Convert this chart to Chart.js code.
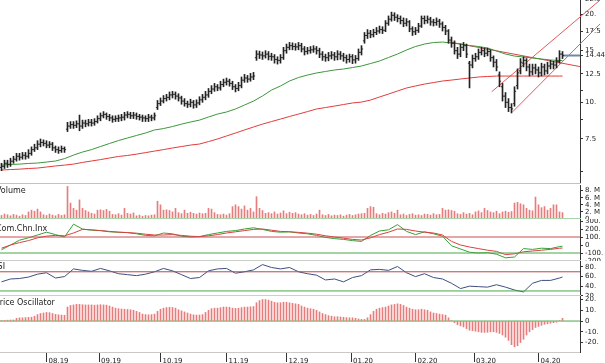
<!DOCTYPE html>
<html>
<head>
<meta charset="utf-8">
<script src="https://cdn.jsdelivr.net/npm/chart.js@4.4.1/dist/chart.umd.min.js"></script>
<style>
html, body { margin: 0; padding: 0; background: #fff; }
body { width: 605px; height: 363px; overflow: hidden; position: relative; font-family: "DejaVu Sans", Verdana, sans-serif; }
.pane { position: absolute; left: 0; }
.pane canvas { display: block; }
.ttl { position: absolute; font-size: 8px; color: #222; white-space: nowrap; }
.sep { position: absolute; left: 0; width: 581px; height: 1px; }
</style>
</head>
<body>
<div class="pane" style="top:-1px"><canvas id="price" width="605" height="184"></canvas></div>
<div class="pane" style="top:185px"><canvas id="vol" width="605" height="34"></canvas></div>
<div class="pane" style="top:219px"><canvas id="cci" width="605" height="42"></canvas></div>
<div class="pane" style="top:261px"><canvas id="rsi" width="605" height="35"></canvas></div>
<div class="pane" style="top:296px"><canvas id="osc" width="605" height="67"></canvas></div>
<div class="sep" style="top:183px;background:#a9d3a9"></div>
<div class="sep" style="top:218px;background:#a9d3a9"></div>
<div class="sep" style="top:260px;background:#c8d0c8"></div>
<div class="sep" style="top:295px;background:#c8d0c8"></div>
<div class="ttl" style="left:-4px;top:186px">Volume</div>
<div class="ttl" style="left:-4px;top:224px">Com.Chn.Inx</div>
<div class="ttl" style="left:-8px;top:262px">RSI</div>
<div class="ttl" style="left:-5px;top:298px">Price Oscillator</div>
<script>
// daily bars, mid-July 2019 to late April 2020
const opens = [6.0,6.05,6.2,6.15,6.3,6.4,6.55,6.5,6.6,6.55,
  6.7,6.9,7.0,7.2,7.3,7.25,7.15,7.2,7.0,6.9,
  6.85,6.95,8.1,8.3,8.4,8.35,8.45,8.3,8.5,8.45,
  8.55,8.5,8.6,8.8,9.0,9.1,8.95,8.85,8.75,8.8,
  8.85,8.9,9.05,9.1,9.0,9.05,8.95,8.9,8.85,8.8,
  8.9,8.85,9.6,9.9,10.1,10.3,10.4,10.6,10.65,10.5,
  10.35,10.1,9.9,9.85,10.0,9.8,9.95,10.2,10.4,10.6,
  10.9,11.1,11.3,11.2,11.5,11.7,11.8,11.6,11.3,11.15,
  11.4,11.9,12.1,12.0,12.2,14.2,14.6,14.5,14.4,14.6,
  14.35,14.3,14.0,13.9,14.2,15.0,15.4,15.6,15.5,15.45,
  15.6,15.2,14.9,15.0,15.1,15.2,15.0,14.6,14.3,14.2,
  14.4,14.5,14.3,14.6,14.4,14.2,14.0,14.3,13.95,14.1,
  14.8,16.2,16.9,17.2,17.0,17.3,17.5,17.7,17.6,18.6,
  19.2,19.8,19.5,19.3,19.0,18.6,18.8,17.8,17.4,17.6,
  18.2,19.3,19.0,19.2,18.8,18.7,18.9,18.5,18.0,17.5,
  16.3,15.9,15.0,14.6,15.4,15.6,13.6,13.4,14.1,14.3,
  14.8,15.0,14.7,14.9,14.2,13.7,12.4,11.3,10.5,10.0,
  9.6,9.9,11.4,12.8,13.6,13.9,13.2,12.7,13.1,12.9,
  12.6,13.2,12.8,13.3,13.5,13.4,13.8,14.6];
const highs = [6.2,6.35,6.35,6.45,6.55,6.7,6.7,6.75,6.75,6.9,
  7.05,7.2,7.4,7.5,7.45,7.4,7.35,7.3,7.1,7.05,
  7.1,7.05,8.55,8.6,8.6,8.65,9.05,8.7,8.7,8.75,
  8.75,8.8,9.0,9.2,9.3,9.2,9.1,9.0,9.0,9.05,
  9.1,9.25,9.3,9.25,9.25,9.2,9.1,9.05,9.0,9.1,
  9.05,9.2,10.15,10.35,10.55,10.65,10.85,10.9,10.85,10.7,
  10.5,10.3,10.1,10.25,10.15,10.2,10.45,10.65,10.9,11.15,
  11.4,11.6,11.5,11.8,12.0,12.1,12.0,11.8,11.5,11.7,
  12.2,12.45,12.35,12.55,12.65,15.0,14.95,14.85,15.0,14.9,
  14.7,14.55,14.3,14.55,15.4,15.8,16.0,15.95,15.85,16.0,
  15.9,15.5,15.4,15.5,15.6,15.5,15.3,14.9,14.6,14.8,
  14.9,14.8,15.0,14.9,14.7,14.5,14.6,14.55,14.45,15.2,
  15.6,17.3,17.7,17.6,17.75,18.0,18.2,18.1,19.0,19.7,
  20.3,20.2,19.9,19.7,19.4,19.3,19.0,18.1,18.0,18.6,
  19.7,19.7,19.7,19.5,19.2,19.4,19.2,18.8,18.3,17.7,
  16.7,16.2,15.4,15.8,16.0,15.8,13.8,14.5,14.7,15.2,
  15.4,15.3,15.3,15.1,14.4,14.0,12.7,11.6,10.8,10.3,
  9.9,11.3,13.0,14.1,14.3,14.1,13.5,13.5,13.5,13.2,
  13.6,13.5,13.7,13.9,13.8,14.2,15.0,14.9];
const lows = [5.85,5.95,6.0,6.05,6.2,6.3,6.35,6.4,6.4,6.45,
  6.6,6.8,6.9,7.05,7.1,7.0,7.0,6.85,6.75,6.7,
  6.75,6.75,7.95,8.15,8.15,8.2,8.0,8.15,8.25,8.3,
  8.3,8.35,8.5,8.65,8.85,8.75,8.65,8.55,8.6,8.6,
  8.65,8.7,8.85,8.8,8.8,8.75,8.7,8.6,8.6,8.6,
  8.65,8.7,9.45,9.75,9.95,10.1,10.2,10.35,10.25,10.1,
  9.85,9.7,9.6,9.65,9.55,9.6,9.8,10.0,10.2,10.4,
  10.7,10.9,10.95,11.0,11.3,11.45,11.35,11.05,10.85,10.95,
  11.2,11.7,11.7,11.8,11.95,13.9,14.1,14.0,14.15,13.95,
  13.9,13.6,13.5,13.6,14.0,14.7,15.1,15.1,15.05,15.1,
  14.85,14.5,14.6,14.7,14.8,14.6,14.2,13.9,13.8,13.85,
  14.05,13.9,13.95,14.0,13.8,13.6,13.7,13.55,13.6,13.9,
  14.5,15.9,16.5,16.6,16.7,17.0,17.2,17.15,17.4,18.3,
  18.9,19.0,18.8,18.5,18.1,18.2,17.4,16.9,17.0,17.3,
  18.0,18.5,18.6,18.3,18.2,18.3,18.0,17.5,17.0,15.9,
  15.4,14.6,14.1,14.3,15.0,14.2,11.2,13.1,13.8,14.0,
  14.5,14.3,14.4,13.8,13.2,12.8,11.3,10.1,9.6,9.3,
  9.2,9.7,11.1,12.5,13.2,12.8,12.3,12.4,12.5,12.2,
  12.3,12.4,12.5,13.0,13.0,13.1,13.6,14.1];
const closes = [6.05,6.2,6.15,6.3,6.4,6.55,6.5,6.6,6.55,6.7,
  6.9,7.0,7.2,7.3,7.25,7.15,7.2,7.0,6.9,6.85,
  6.95,6.9,8.3,8.4,8.35,8.45,8.3,8.5,8.45,8.55,
  8.5,8.6,8.8,9.0,9.1,8.95,8.85,8.75,8.8,8.85,
  8.9,9.05,9.1,9.0,9.05,8.95,8.9,8.85,8.8,8.9,
  8.85,9.0,9.9,10.1,10.3,10.4,10.6,10.65,10.5,10.35,
  10.1,9.9,9.85,10.0,9.8,9.95,10.2,10.4,10.6,10.9,
  11.1,11.3,11.2,11.5,11.7,11.8,11.6,11.3,11.15,11.4,
  11.9,12.1,12.0,12.2,12.3,14.6,14.5,14.4,14.6,14.35,
  14.3,14.0,13.9,14.2,15.0,15.4,15.6,15.5,15.45,15.6,
  15.2,14.9,15.0,15.1,15.2,15.0,14.6,14.3,14.2,14.4,
  14.5,14.3,14.6,14.4,14.2,14.0,14.3,13.95,14.1,14.8,
  15.2,16.9,17.2,17.0,17.3,17.5,17.7,17.6,18.6,19.2,
  19.8,19.5,19.3,19.0,18.6,18.8,17.8,17.4,17.6,18.2,
  19.3,19.0,19.2,18.8,18.7,18.9,18.5,18.0,17.5,16.3,
  15.9,15.0,14.6,15.4,15.6,14.6,13.4,14.1,14.3,14.8,
  15.0,14.7,14.9,14.2,13.7,13.2,11.8,10.5,10.0,9.6,
  9.5,10.9,12.6,13.7,13.9,13.2,12.7,13.1,12.9,12.6,
  13.2,12.8,13.3,13.5,13.4,13.8,14.6,14.44];
// volume in millions
const volumes = [1.0,1.4,1.2,0.9,1.3,1.1,0.8,1.2,1.0,2.0,
  2.5,2.2,2.8,2.0,1.2,1.0,1.4,1.1,0.9,1.3,
  1.0,1.2,9.2,4.5,3.0,2.5,5.4,3.0,2.4,2.0,
  1.6,1.4,2.5,2.6,2.4,2.7,2.2,1.3,1.2,1.5,
  1.1,3.0,1.6,1.4,1.7,0.9,1.1,0.8,1.0,0.9,
  1.1,1.2,5.0,4.0,2.5,2.6,2.4,2.0,3.0,1.8,
  1.5,2.5,1.6,1.9,1.6,1.4,1.7,1.5,1.6,3.0,
  2.8,1.8,1.3,1.2,1.4,1.1,1.5,3.5,4.0,3.5,
  2.8,3.7,2.5,3.0,2.0,6.3,3.0,2.4,1.6,1.8,
  1.5,2.0,1.4,1.7,2.3,1.5,1.9,1.6,1.8,1.4,
  1.2,1.5,1.1,1.3,1.0,1.4,2.5,1.2,1.0,1.3,
  0.9,1.1,1.0,1.2,0.8,1.1,1.3,1.0,1.2,1.4,
  1.5,1.6,3.0,3.5,3.3,1.5,1.2,1.6,1.4,1.8,
  2.0,1.6,2.5,1.2,1.4,1.0,1.3,1.5,1.1,1.2,
  1.0,1.4,1.3,1.1,1.5,1.2,1.3,3.0,2.5,2.6,
  2.4,2.2,1.5,1.3,1.8,1.4,1.6,1.2,2.0,2.3,
  1.8,3.0,2.4,2.0,1.8,2.2,1.5,2.0,2.2,1.9,
  2.1,4.5,4.7,4.3,4.0,3.0,2.5,2.3,6.2,4.0,
  3.2,3.5,2.5,3.0,4.0,4.0,2.0,1.8];
const oscVals = [0.5,0.6,0.8,1.0,1.0,2.5,3,3,3.2,3.4,
  3.6,4.5,6.0,7.0,7.5,8.0,7.8,7.0,6.2,5.8,
  5.5,5.4,13,14.5,15,15.5,15.5,15.2,15,15,
  15,14.8,15,15.2,15,14.8,14,13,12,11.5,
  11.2,11,10.8,10.5,10,9,8,6.5,6,5.8,
  6,6.5,9,11,12,12.5,12.8,12.6,12,10.5,
  9.5,8.5,7.5,6.5,5.8,5.5,5.6,6,8,10,
  11.5,12,12,12.5,13,13,12.8,12,11.8,12,
  12.5,13,13,13.2,13.5,17,19,20,20,19.5,
  18.5,17.5,17,17,17.5,17.5,17,16.5,16,15.5,
  14,13,12,11.5,11,10,8.5,7,6,5,
  4.5,4,4,3.8,3.5,3.2,3,3,2.5,2,
  1.5,1.5,3,6,9,11,12,12.5,13,14,
  15,15.5,16,15.5,14.5,13,12,11,10.5,10.5,
  11,10.5,10,8.5,7.5,7,6.5,6,5.5,3,
  0.5,-1.5,-3.5,-4.5,-5.5,-7,-8.5,-9,-9.5,-10,
  -10.5,-10.5,-10.5,-10,-10,-10.5,-11.5,-13,-15,-18,
  -22,-24,-23,-20,-17,-13,-10,-8,-6,-5,
  -4,-3,-2.5,-2,-1.5,-1,0.5,2.5];

// smooth lines, read every third bar
const lineIdx = [0,3,6,9,12,15,18,21,24,27,30,33,36,39,42,45,48,51,54,57,60,63,66,69,72,75,78,81,84,87,90,93,
  96,99,102,105,108,111,114,117,120,123,126,129,132,135,138,141,144,147,150,153,156,159,162,165,168,171,174,177,180,183,186,187];
const maShort = [6.11,6.14,6.16,6.19,6.21,6.26,6.31,6.43,6.61,6.77,
  6.90,7.07,7.24,7.41,7.56,7.71,7.86,8.05,8.14,8.27,
  8.43,8.57,8.70,8.91,9.12,9.27,9.49,9.79,10.10,10.51,
  11.01,11.37,11.82,12.15,12.39,12.59,12.74,12.89,12.99,13.14,
  13.30,13.56,13.83,14.22,14.61,15.08,15.50,15.80,15.99,16.05,
  15.93,15.80,15.62,15.50,15.32,14.96,14.61,14.38,14.27,14.16,
  14.05,13.94,13.88,13.88];
const maLong = [5.88,5.90,5.92,5.95,5.97,6.02,6.07,6.11,6.16,6.24,
  6.31,6.38,6.46,6.54,6.59,6.66,6.74,6.82,6.90,6.99,
  7.07,7.15,7.21,7.35,7.50,7.68,7.86,8.05,8.24,8.43,
  8.60,8.77,8.95,9.12,9.30,9.49,9.60,9.71,9.83,9.95,
  10.02,10.18,10.43,10.67,10.93,11.19,11.37,11.54,11.68,11.82,
  11.91,12.01,12.10,12.20,12.25,12.29,12.29,12.29,12.29,12.29,
  12.29,12.29,12.29,12.29];
const cciVals = [-60,0,60,90,125,160,130,100,260,200,
  185,180,165,160,155,140,120,115,150,140,
  110,100,105,130,150,170,180,200,215,195,
  170,160,165,150,140,120,95,80,70,55,
  45,120,175,190,255,170,130,165,140,110,
  -10,-50,-90,-100,-95,-115,-160,-150,-45,-55,
  -40,-45,-20,-15];
const cciAvg = [-40,0,30,55,90,110,120,115,150,195,
  190,180,170,160,155,148,135,125,125,130,
  120,110,105,115,130,150,165,180,195,200,
  185,170,165,158,148,135,115,100,85,70,
  62,90,130,160,200,195,175,160,150,125,
  45,0,-25,-45,-65,-80,-120,-110,-85,-75,
  -65,-55,-40,-38];
const rsiVals = [49,55,56,59,65,68,57,60,76,73,
  71,77,72,66,64,62,65,70,77,72,
  64,56,58,72,76,77,67,70,74,85,
  79,76,79,70,66,63,53,55,49,58,
  62,74,75,73,81,68,60,66,58,55,
  46,35,40,39,38,43,38,32,28,46,
  52,52,57,59];

// hand-drawn trend lines [index, price]
const channelTop = [[163.4, 10.87], [199.5, 22.3]];
const channelBottom = [[170.4, 9.29], [199.5, 18.5]];
const downTrend = [[149.5, 16.05], [192.8, 13.24]];
const lastPrice = 14.44;

// axis ticks
const monthIdx = [15, 32.5, 53, 75, 95, 116.5, 138, 157.5, 179];
const monthLabels = ['08.19','09.19','10.19','11.19','12.19','01.20','02.20','03.20','04.20'];
const priceTicks = [22.5, 20, 17.5, 15, 14.44, 12.5, 11, 10, 8.75, 7.5, 5.8];
const priceLabels = ['22.5','20.','17.5','15','14.44','12.5','','10.','','7.5',''];
const volTicks = [0, 2, 4, 6, 8];
const volLabels = ['0','2. M','4. M','6. M','8. M'];
const cciTicks = [-200, -100, 0, 100, 200, 300];
const cciLabels = ['-200','-100.','0','100.','200.','300.'];
const rsiTicks = [20, 40, 60, 80];
const rsiLabels = ['20.','40.','60.','80.'];
const oscTicks = [-20, -10, 0, 10, 20];
const oscLabels = ['-20.','-10.','0','10.','20.'];

const xMin = -0.5, xMax = 192.83;

Chart.defaults.font.family = "'DejaVu Sans', Verdana, sans-serif";
Chart.defaults.font.size = 7;
Chart.defaults.color = '#222';

function yAxis(type, min, max, vals, labels) {
  return {
    type: type, position: 'right', min: min, max: max,
    afterBuildTicks: s => { s.ticks = vals.map(v => ({value: v})); },
    afterFit: s => { s.width = 25; s.paddingTop = 0; s.paddingBottom = 0; },
    ticks: {autoSkip: false, padding: 2, callback: (v, i) => labels[i]},
    grid: {drawOnChartArea: false, drawTicks: true, tickLength: 3, color: '#333'},
    border: {display: true, color: '#333'}
  };
}

function hidX() {
  return {type: 'linear', min: xMin, max: xMax, offset: false, display: false};
}

function line(pts, color, width) {
  return {type: 'line', data: pts, borderColor: color, borderWidth: width || 1,
    pointRadius: 0, tension: 0, fill: false};
}

function hline(v, color) {
  return line([{x: xMin, y: v}, {x: xMax, y: v}], color);
}

function seg(p, color) {
  return Object.assign(line(p.map(q => ({x: q[0], y: q[1]})), color), {clip: false});
}

function make(id, datasets, x, y) {
  return new Chart(document.getElementById(id), {
    type: 'bar',
    data: {datasets: datasets},
    options: {
      responsive: false, animation: false, devicePixelRatio: 1,
      layout: {padding: 0, autoPadding: false},
      plugins: {legend: {display: false}, tooltip: {enabled: false}},
      scales: {x: x, y: y}
    }
  });
}

const sample = arr => lineIdx.map((i, k) => ({x: i, y: arr[k]}));

// open tick on the left, close tick on the right of each bar
function tick(vals, side) {
  return {type: 'line', data: vals.map((v, i) => ({x: i + side * 0.34, y: v})), showLine: false,
    pointStyle: 'line', pointRadius: 0.6, pointBorderColor: '#333', pointBorderWidth: 1};
}

// price
make('price', [
  {type: 'bar', data: closes.map((c, i) => ({x: i, y: [lows[i], highs[i]]})),
    backgroundColor: '#222', borderWidth: 0, barThickness: 1, grouped: false},
  tick(opens, -1),
  tick(closes, 1),
  line(sample(maShort), '#3c963c'),
  line(sample(maLong), '#e23b3b'),
  seg(downTrend, '#d84545'),
  seg(channelTop, '#e05a5a'),
  seg(channelBottom, '#e05a5a'),
  line([{x: closes.length - 1, y: lastPrice}, {x: xMax, y: lastPrice}], '#7088a8', 2)
], hidX(), yAxis('logarithmic', 5.31, 22.5, priceTicks, priceLabels));

// volume
make('vol', [
  {type: 'bar', data: volumes.map((v, i) => ({x: i, y: v})),
    backgroundColor: '#e67c7c', borderWidth: 0, barThickness: 1, grouped: false}
], hidX(), yAxis('linear', 0, 9.6, volTicks, volLabels));

// commodity channel index
make('cci', [
  hline(100, '#c85050'),
  hline(-100, '#48a848'),
  line(sample(cciAvg), '#d84040'),
  line(sample(cciVals), '#35a035')
], hidX(), yAxis('linear', -200, 325, cciTicks, cciLabels));

// rsi
make('rsi', [
  hline(70, '#b84848'),
  hline(30, '#48a848'),
  line(sample(rsiVals), '#3e4f80')
], hidX(), yAxis('linear', 19.5, 92.5, rsiTicks, rsiLabels));

// price oscillator with the date axis
make('osc', [
  {type: 'bar', data: oscVals.map((v, i) => ({x: i, y: v})),
    backgroundColor: '#e67c7c', borderWidth: 0, barThickness: 1, grouped: false},
  hline(0, '#48a848')
], {
  type: 'linear', position: 'bottom', min: xMin, max: xMax, offset: false,
  afterBuildTicks: s => { s.ticks = monthIdx.map(v => ({value: v})); },
  afterFit: s => { s.height = 11; s.paddingLeft = 0; s.paddingRight = 0; },
  ticks: {autoSkip: false, maxRotation: 0, align: 'start', labelOffset: 2, padding: -5,
    callback: (v, i) => monthLabels[i]},
  grid: {offset: false, drawOnChartArea: false, drawTicks: true, tickLength: 10, color: '#333'},
  border: {display: true, color: '#c8c8c8'}
}, yAxis('linear', -28.8, 23.3, oscTicks, oscLabels));
</script>
</body>
</html>
